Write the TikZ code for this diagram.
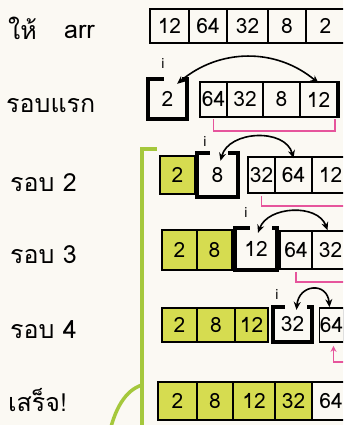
\documentclass[tikz,border=0pt]{standalone}
\usepackage{fontspec}
\setmainfont[Script=Thai]{Loma}
\usetikzlibrary{arrows.meta,positioning}
\definecolor{paper}{HTML}{FBF9F3}
\definecolor{hilite}{HTML}{D6DC50}
\definecolor{sortgreen}{HTML}{A5C83C}
\definecolor{scanpink}{HTML}{E6559C}

\begin{document}
\begin{tikzpicture}[x=1pt,y=-1pt,font=\fontsize{21}{24}\selectfont,
 cell/.style={draw,line width=1.6pt,minimum height=36,inner sep=0pt},
 done/.style={cell,fill=hilite},
 picked/.style={inner sep=0pt},
 pickline/.style={line width=3.6pt},
 idx/.style={font=\fontsize{14}{16}\selectfont,inner sep=0pt},
 rowname/.style={font=\fontsize{25}{28}\selectfont,anchor=west,inner sep=0pt},
 swaparrow/.style={line width=1.6pt,{Stealth[length=8pt,width=7pt]}-{Stealth[length=8pt,width=7pt]}},
 scanline/.style={draw=scanpink,line width=1.6pt},
 sorted/.style={draw=sortgreen,line width=4.5pt}]
\clip (0,0) rectangle (343,425);
\fill[paper] (0,0) rectangle (343,425);
% row labels
\node[rowname] (give) at (8,28) {ให้};
\node[rowname] (arr) at (64,32) {arr};
\node[rowname] (pass1) at (6,106) {รอบแรก};
\node[rowname] (pass2) at (10,183) {รอบ 2};
\node[rowname] (pass3) at (10,255) {รอบ 3};
\node[rowname] (pass4) at (10,330) {รอบ 4};
\node[rowname] (finish) at (8,400) {เสร็จ!};
% given array
\node[cell,minimum width=39,minimum height=34] (r0a) at (169.5,26) {12};
\node[cell,minimum width=38,minimum height=34] (r0b) at (208,26) {64};
\node[cell,minimum width=41,minimum height=34] (r0c) at (247.5,26) {32};
\node[cell,minimum width=38,minimum height=34] (r0d) at (287,26) {8};
\node[cell,minimum width=39,minimum height=34] (r0e) at (325.5,26) {2};
% first pass
\node[picked,minimum width=39,minimum height=40] (r1a) at (167.5,99) {2};
\draw[pickline] ([xshift=16pt]r1a.north west) -- (r1a.north west) -- (r1a.south west) -- (r1a.south east) -- (r1a.north east) -- ([xshift=-5pt]r1a.north east);
\node[cell,minimum width=27,minimum height=35] (r1b) at (213.5,99.5) {64};
\node[cell,minimum width=36,minimum height=35] (r1c) at (245,99.5) {32};
\node[cell,minimum width=37,minimum height=35] (r1d) at (281.5,99.5) {8};
\node[cell,minimum width=37,minimum height=35] (r1e) at (318.5,99.5) {12};
\draw[pickline] (r1e.north east) -- (r1e.south east);
\node[idx] (i1) at (163,63) {i};
\draw[swaparrow] ([xshift=-10pt,yshift=-5pt]r1a.north east) to[out=40,in=140] ([yshift=-2pt]r1e.north);
\draw[scanline] ([yshift=-1pt]r1b.south) -- ++(0,12) -| ([xshift=-3pt,yshift=-1pt]r1e.south east);
% second pass
\node[done,minimum width=35,minimum height=38] (r2a) at (177.5,175) {2};
\node[picked,minimum width=41,minimum height=44] (r2b) at (217.5,175) {8};
\draw[pickline] ([xshift=13pt]r2b.north west) -- (r2b.north west) -- (r2b.south west) -- (r2b.south east) -- (r2b.north east) -- ([xshift=-10pt]r2b.north east);
\node[cell,minimum width=27] (r2c) at (261.5,175) {32};
\node[cell,minimum width=37] (r2d) at (293.5,175) {64};
\node[cell,minimum width=37] (r2e) at (330.5,175) {12};
\node[idx] (i2) at (205,141) {i};
\draw[swaparrow] ([xshift=3pt,yshift=-8pt]r2b.north) to[out=75,in=105,looseness=1.1] ([yshift=-2pt]r2d.north);
\draw[scanline] ([yshift=-2pt]r2c.south) -- ++(0,10) -- ++(100,0);
% third pass
\node[done,minimum width=35,minimum height=40] (r3a) at (179.5,250) {2};
\node[done,minimum width=35,minimum height=40] (r3b) at (214.5,250) {8};
\node[picked,minimum width=42,minimum height=42] (r3c) at (256,249) {12};
\draw[pickline] ([xshift=15pt]r3c.north west) -- (r3c.north west) -- (r3c.south west) -- (r3c.south east) -- (r3c.north east) -- ([xshift=-5pt]r3c.north east);
\node[cell,minimum width=32,minimum height=38] (r3d) at (296,250) {64};
\node[cell,minimum width=37,minimum height=38] (r3e) at (330.5,250) {32};
\node[idx] (i3) at (246,212) {i};
\draw[swaparrow] ([xshift=2pt,yshift=-5pt]r3c.north) to[out=70,in=110,looseness=1.05] ([xshift=-3pt]r3e.north);
\draw[scanline] ([yshift=-2pt]r3d.south) -- ++(0,10) -- ++(60,0);
% fourth pass
\node[done,minimum width=35,minimum height=34] (r4a) at (179.5,325) {2};
\node[done,minimum width=38,minimum height=34] (r4b) at (216,325) {8};
\node[done,minimum width=33,minimum height=34] (r4c) at (251.5,325) {12};
\node[picked,minimum width=39,minimum height=35] (r4d) at (292.5,324.5) {32};
\draw[pickline] ([xshift=12pt]r4d.north west) -- (r4d.north west) -- (r4d.south west) -- (r4d.south east) -- (r4d.north east) -- ([xshift=-5pt]r4d.north east);
\node[cell,minimum width=24,minimum height=34] (r4e) at (331.5,325) {64};
\node[idx] (i4) at (277,294) {i};
\draw[swaparrow] ([xshift=4pt,yshift=-3pt]r4d.north) to[out=85,in=95,looseness=2] ([xshift=-2pt]r4e.north);
\draw[scanline,{Stealth[length=6pt,width=6pt]}-] ([xshift=2pt,yshift=-3pt]r4e.south) -- ++(0,16) -- ++(30,0);
% sorted
\node[done,minimum width=39,minimum height=38] (r5a) at (177.5,401) {2};
\node[done,minimum width=36,minimum height=38] (r5b) at (215,401) {8};
\node[done,minimum width=42,minimum height=38] (r5c) at (254,401) {12};
\node[done,minimum width=37,minimum height=38] (r5d) at (293.5,401) {32};
\node[cell,minimum width=38,minimum height=38] (r5e) at (331,401) {64};
% sorted part bracket
\draw[sorted] (157,149) -- (142,149) -- (142,440);
\draw[sorted,line width=3.5pt] (142,385) .. controls (126,390) and (114,408) .. (108,440);
\end{tikzpicture}
\end{document}
